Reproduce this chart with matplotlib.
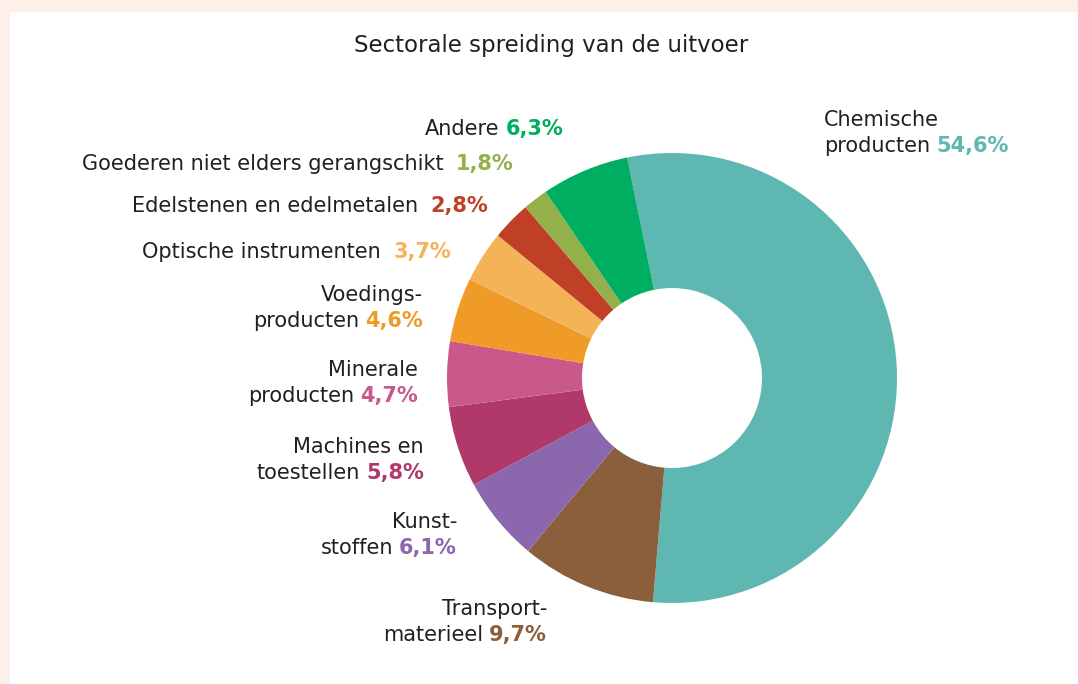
import matplotlib
matplotlib.use('Agg')
import matplotlib.pyplot as plt
from matplotlib.patches import Rectangle

sectors = ['Chemische producten', 'Transportmaterieel', 'Kunststoffen',
           'Machines en toestellen', 'Minerale producten', 'Voedingsproducten',
           'Optische instrumenten', 'Edelstenen en edelmetalen',
           'Goederen niet elders gerangschikt', 'Andere']
shares = [54.6, 9.7, 6.1, 5.8, 4.7, 4.6, 3.7, 2.8, 1.8, 6.3]
colors = ['#5fb7b1', '#8b5e3c', '#8b67ad', '#b0396a', '#c9588b',
          '#f09a28', '#f5b358', '#bf4027', '#93b04a', '#00ae62']
label_lines = [['Chemische', 'producten'], ['Transport-', 'materieel'],
               ['Kunst-', 'stoffen'], ['Machines en', 'toestellen'],
               ['Minerale', 'producten'], ['Voedings-', 'producten'],
               ['Optische instrumenten'], ['Edelstenen en edelmetalen'],
               ['Goederen niet elders gerangschikt'], ['Andere']]
pct_labels = [f'{v:.1f}%'.replace('.', ',') for v in shares]

W, H = 1078, 684
FONT = 'DejaVu Sans'
FS = 15
TXT = '#231f20'

# label placement in pixels: (x anchor, baseline of last line, ha, gap before pct)
label_pos = [(824, 152, 'left', 6), (547, 641, 'right', 6), (457, 554, 'right', 6),
             (424, 479, 'right', 6), (418, 402, 'right', 6), (423, 327, 'right', 6),
             (451, 258, 'right', 12), (488, 212, 'right', 12), (513, 170, 'right', 12),
             (563, 135, 'right', 6)]
LINE = 26

fig = plt.figure(figsize=(W / 100, H / 100), dpi=100)
fig.patch.set_facecolor('#fdf0eb')
fig.add_artist(Rectangle((10 / W, 0), 1, 1 - 12 / H, transform=fig.transFigure,
                         facecolor='white', edgecolor='none', zorder=0))

def px(x, y):
    return x / W, 1 - y / H

cx, cy, r = 672, 378, 225
ax = fig.add_axes([(cx - r) / W, (H - cy - r) / H, 2 * r / W, 2 * r / H])
ax.pie(shares, colors=colors, startangle=101.5, counterclock=False,
       wedgeprops=dict(width=0.6, linewidth=0))
ax.set_xlim(-1, 1)
ax.set_ylim(-1, 1)
ax.set_aspect('equal')
ax.axis('off')

fig.text(*px(551, 52), 'Sectorale spreiding van de uitvoer', ha='center',
         va='baseline', fontsize=16.5, color=TXT, family=FONT)

renderer = fig.canvas.get_renderer()
for lines, pct, col, (x, yb, ha, gap) in zip(label_lines, pct_labels, colors, label_pos):
    n = len(lines)
    for i, line in enumerate(lines[:-1]):
        fig.text(*px(x, yb - (n - 1 - i) * LINE), line, ha=ha, va='baseline',
                 fontsize=FS, color=TXT, family=FONT)
    last = lines[-1]
    if ha == 'right':
        t = fig.text(*px(x, yb), pct, ha='right', va='baseline', fontsize=FS,
                     color=col, family=FONT, fontweight='bold')
        w = t.get_window_extent(renderer).width
        fig.text(*px(x - w - gap, yb), last, ha='right', va='baseline',
                 fontsize=FS, color=TXT, family=FONT)
    else:
        t = fig.text(*px(x, yb), last, ha='left', va='baseline', fontsize=FS,
                     color=TXT, family=FONT)
        w = t.get_window_extent(renderer).width
        fig.text(*px(x + w + gap, yb), pct, ha='left', va='baseline',
                 fontsize=FS, color=col, family=FONT, fontweight='bold')

fig.savefig('out.png', dpi=100, facecolor=fig.get_facecolor())
